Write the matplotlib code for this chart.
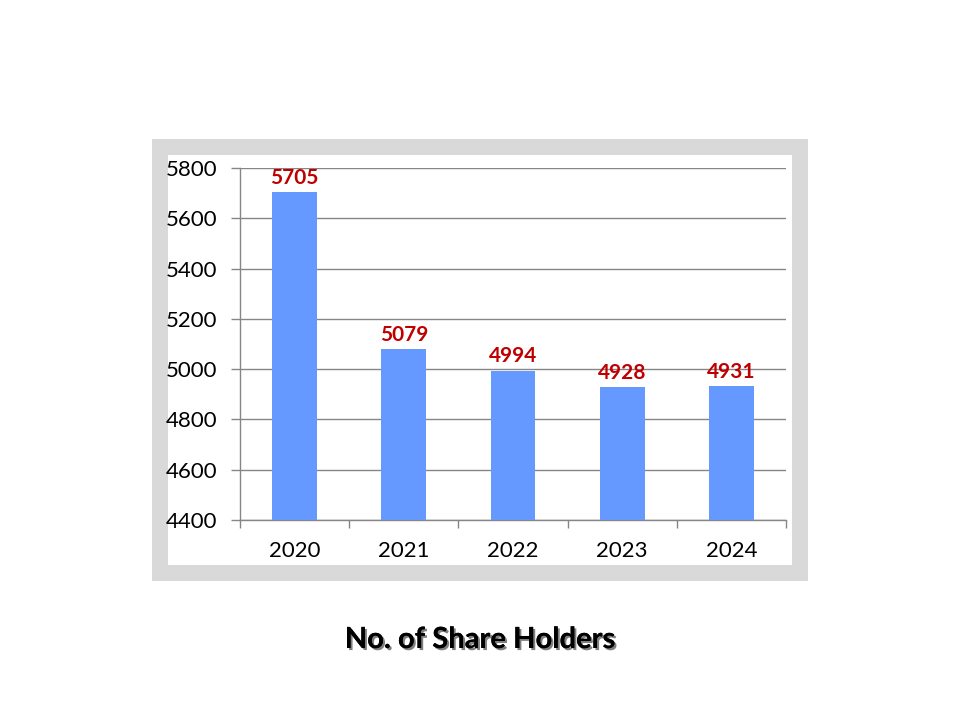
import matplotlib.pyplot as plt
import matplotlib.patheffects as pe
from matplotlib.patches import Rectangle

years = ['2020', '2021', '2022', '2023', '2024']
holders = [5705, 5079, 4994, 4928, 4931]

plt.rcParams['font.family'] = ['Lato', 'DejaVu Sans']

fig = plt.figure(figsize=(9.6, 7.2), dpi=100)

# grey frame around the chart
fig.patches.append(Rectangle((152 / 960, 1 - 581 / 720), 656 / 960, 442 / 720,
                             transform=fig.transFigure, facecolor='#d9d9d9',
                             edgecolor='none', zorder=-2))
fig.patches.append(Rectangle((168 / 960, 1 - 565 / 720), 624 / 960, 410 / 720,
                             transform=fig.transFigure, facecolor='white',
                             edgecolor='none', zorder=-1))

ax = fig.add_axes([0.25, 0.27778, 0.56875, 0.48889])
ax.set_zorder(1)
ax.set_facecolor('none')
x = range(len(years))
ax.bar(x, holders, width=0.41, color='#6699ff', zorder=3)

for xi, v in zip(x, holders):
    ax.annotate(str(v), (xi, v), xytext=(0, 3), textcoords='offset points',
                ha='center', va='bottom', color='#c00000', fontsize=15,
                fontweight='bold', zorder=4)

ax.set_ylim(4400, 5800)
ax.set_yticks(range(4400, 5801, 200))
ax.set_xlim(-0.5, 4.5)
ax.set_xticks(list(x))
ax.set_xticklabels(years)
ax.set_xticks([i - 0.5 for i in range(len(years) + 1)], minor=True)
ax.tick_params(axis='x', which='major', length=0, pad=15, labelsize=16)
ax.tick_params(axis='x', which='minor', length=6, color='#868686', width=1)
ax.tick_params(axis='y', length=6.5, color='#868686', width=1, pad=10, labelsize=16)
ax.grid(axis='y', color='#868686', linewidth=1, zorder=0)

for s in ['top', 'right']:
    ax.spines[s].set_visible(False)
for s in ['left', 'bottom']:
    ax.spines[s].set_color('#868686')
    ax.spines[s].set_linewidth(1)

fig.text(0.5, 1 - 640 / 720, 'No. of Share Holders', ha='center', va='center',
         fontsize=21, fontweight='bold',
         path_effects=[pe.withSimplePatchShadow(offset=(1.5, -1.5), alpha=0.5), pe.Normal()])

plt.savefig('out.png', dpi=100)
plt.close()
